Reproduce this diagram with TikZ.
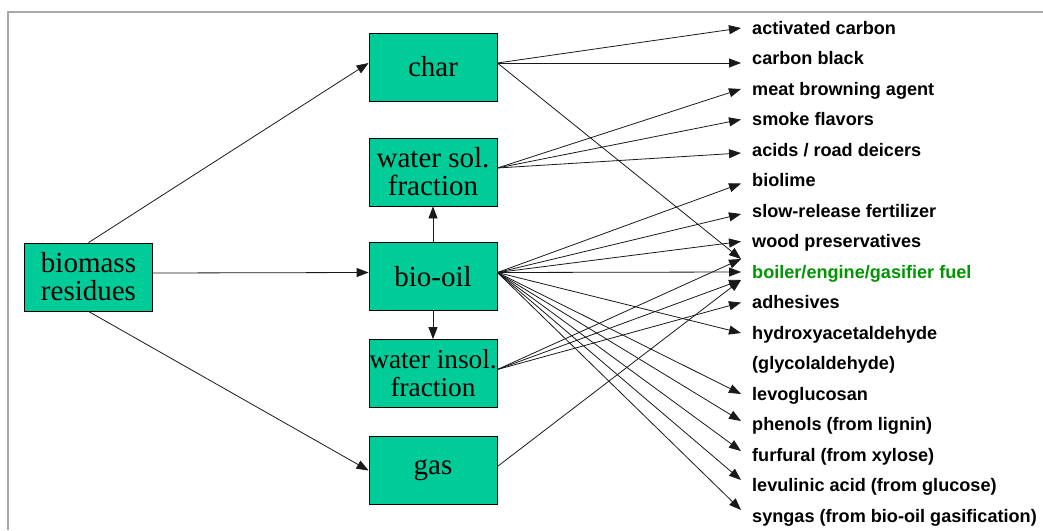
\documentclass[tikz,border=0pt]{standalone}
\usepackage{fontspec}
\setmainfont{Liberation Serif}
\newfontfamily\labelsans{Liberation Sans}
\usetikzlibrary{arrows.meta}
\definecolor{boxfill}{RGB}{0,204,153}
\definecolor{framegray}{RGB}{168,168,168}
\definecolor{fuelgreen}{RGB}{0,150,0}

\begin{document}
\begin{tikzpicture}[x=1pt,y=-1pt,
  proc/.style={draw=black, line width=0.8pt, fill=boxfill,
    minimum width=128pt, minimum height=68pt, inner sep=0pt,
    align=center, font=\fontsize{29}{28}\selectfont},
  prod/.style={anchor=west, inner xsep=11pt, inner ysep=0pt,
    text height=12pt, text depth=0pt,
    font=\labelsans\fontsize{18.1}{20}\selectfont\bfseries},
  link/.style={draw=black!90, line width=0.8pt,
    -{Triangle[length=12pt,width=9pt]}},
]
\useasboundingbox (0,0) rectangle (1043,530);

% frame
\draw[framegray, line width=2pt] (8,530) -- (8,12) -- (1043,12);

% process boxes
\node[proc] (bio)  at (88.5,277)  {biomass\\residues};
\node[proc] (char) at (433,67)    {char};
\node[proc] (wsol) at (433,172)   {water sol.\\fraction};
\node[proc] (oil)  at (433,276.5) {bio-oil};
\node[proc, font=\fontsize{27.3}{28}\selectfont] (wins) at (433,373.5) {water insol.\\fraction};
\node[proc] (gas)  at (433,470.5) {gas};

% outlet points on the right sides
\coordinate (charout) at ([yshift=4pt]char.east);
\coordinate (wsolout) at ([yshift=4pt]wsol.east);
\coordinate (oilout)  at ([yshift=4pt]oil.east);
\coordinate (winsout) at ([yshift=4pt]wins.east);
\coordinate (gasout)  at ([yshift=4pt]gas.east);

% products
\node[prod] (p1)  at (741,28)    {activated carbon};
\node[prod] (p2)  at (741,58.5)  {carbon black};
\node[prod] (p3)  at (741,89)    {meat browning agent};
\node[prod] (p4)  at (741,119.5) {smoke flavors};
\node[prod] (p5)  at (741,150)   {acids / road deicers};
\node[prod] (p6)  at (741,180.5) {biolime};
\node[prod] (p7)  at (741,211)   {slow-release fertilizer};
\node[prod] (p8)  at (741,241.5) {wood preservatives};
\node[prod, text=fuelgreen] (p9) at (741,272) {boiler/engine/gasifier fuel};
\node[prod] (p10) at (741,302.5) {adhesives};
\node[prod] (p11) at (741,333)   {hydroxyacetaldehyde};
\node[prod] (p12) at (741,363.5) {(glycolaldehyde)};
\node[prod] (p13) at (741,394)   {levoglucosan};
\node[prod] (p14) at (741,424.5) {phenols (from lignin)};
\node[prod] (p15) at (741,455)   {furfural (from xylose)};
\node[prod] (p16) at (741,485.5) {levulinic acid (from glucose)};
\node[prod] (p17) at (741,516)   {syngas (from bio-oil gasification)};

% pyrolysis streams
\draw[link] (bio.north) -- ([yshift=4pt]char.west);
\draw[link] ([yshift=4pt]bio.east) -- ([yshift=4pt]oil.west);
\draw[link] (bio.south) -- (gas.west);
\draw[link] (oil.north) -- (wsol.south);
\draw[link] (oil.south) -- (wins.north);

% char uses
\draw[link] (charout) -- (p1.west);
\draw[link] (charout) -- ([yshift=-4.5pt]p2.west);
\draw[link] (charout) -- ([yshift=13pt]p9.west);

% water soluble fraction uses
\draw[link] (wsolout) -- (p3.west);
\draw[link] (wsolout) -- (p4.west);
\draw[link] (wsolout) -- ([yshift=-3pt]p5.west);

% bio-oil uses
\draw[link] (oilout) -- ([yshift=-3pt]p6.west);
\draw[link] (oilout) -- ([yshift=-3pt]p7.west);
\draw[link] (oilout) -- (p8.west);
\draw[link] (oilout) -- (p9.west);
\draw[link] (oilout) -- (p11.west);
\draw[link] (oilout) -- (p13.west);
\draw[link] (oilout) -- ([yshift=3.5pt]p14.west);
\draw[link] (oilout) -- ([yshift=4pt]p15.west);
\draw[link] (oilout) -- ([yshift=5.5pt]p16.west);
\draw[link] (oilout) -- ([yshift=6pt]p17.west);

% water insoluble fraction uses
\draw[link] (winsout) -- ([yshift=13pt]p9.west);
\draw[link] (winsout) -- ([yshift=-8pt]p9.west);
\draw[link] (winsout) -- (p10.west);

% gas use
\draw[link] (gasout) -- ([yshift=-8pt]p9.west);
\end{tikzpicture}
\end{document}
